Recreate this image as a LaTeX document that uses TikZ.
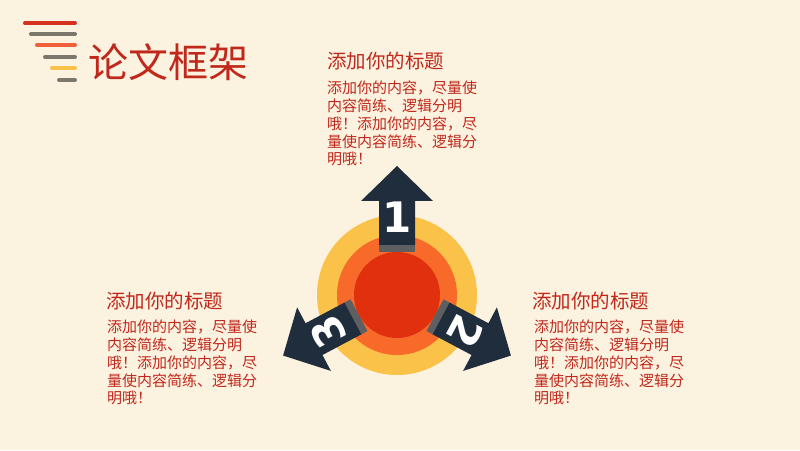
\documentclass[tikz,border=0pt]{standalone}
\usepackage{fontspec}
\newfontfamily\cjk{Noto Sans CJK SC}
\newfontfamily\numfont{DejaVu Sans}
\definecolor{bgcream}{HTML}{FCF2E0}
\definecolor{txtred}{HTML}{C0281C}
\definecolor{stripered}{HTML}{D6301E}
\definecolor{stripegray}{HTML}{7A786C}
\definecolor{stripeorange}{HTML}{F0603A}
\definecolor{stripeyellow}{HTML}{F8C24A}
\definecolor{ringyellow}{HTML}{FBC24A}
\definecolor{ringorange}{HTML}{F76A2A}
\definecolor{ringred}{HTML}{E0300E}
\definecolor{arrownavy}{HTML}{1F2D3C}
\definecolor{bandgray}{HTML}{5D5F61}
\begin{document}
\begin{tikzpicture}[x=1pt,y=1pt,line cap=round,
  heading/.style={anchor=base west,inner sep=0,text=txtred,font=\cjk\fontsize{19.5}{22}\selectfont},
  body/.style={anchor=base west,inner sep=0,align=left,text=txtred,font=\cjk\fontsize{15}{17.8}\selectfont},
  num/.style={text=white,inner sep=0,font=\numfont\bfseries\fontsize{42}{42}\selectfont}]
	\fill[bgcream] (0,0) rectangle (800,450);
	\useasboundingbox (0,0) rectangle (800,450);
	% stripes of the logo
	\foreach \x/\y/\c in {25/427/stripered,31/416/stripegray,37/405/stripeorange,45/393/stripegray,52/382/stripeyellow,59/370/stripegray}
	\draw[line width=4,\c] (\x,\y)--(75,\y);
	\node[anchor=base west,inner sep=0,text=txtred,font=\cjk\fontsize{40}{44}\selectfont] (title) at (88,372.5) {论文框架};
	% rings
	\coordinate (o) at (397,155);
	\fill[ringyellow] (o) circle (80);
	\fill[ringorange] (o) circle (60);
	\fill[ringred] (o) circle (43);
	% arrows
	\foreach \a/\n in {90/1,-28/2,208/3}{
		\begin{scope}[shift={(o)},rotate=\a]
			\fill[bandgray] (43,-18) rectangle (51,18);
			\fill[arrownavy] (50,-18)--(94,-18)--(94,-36)--(129,0)--(94,36)--(94,18)--(50,18)--cycle;
		\end{scope}
		\node[num,rotate=\a-90] (n\n) at ([shift={(\a:78)}]o) {\n};
	}
	% texts (base = last line)
	\node[heading] (hdtop) at (327,381.6) {添加你的标题};
	\node[body] (bdtop) at (327,285.1) {添加你的内容，尽量使\\内容简练、逻辑分明\\哦！添加你的内容，尽\\量使内容简练、逻辑分\\明哦！};
	\node[heading] (hdleft) at (106,141.6) {添加你的标题};
	\node[body] (bdleft) at (107,46.1) {添加你的内容，尽量使\\内容简练、逻辑分明\\哦！添加你的内容，尽\\量使内容简练、逻辑分\\明哦！};
	\node[heading] (hdright) at (532,141.6) {添加你的标题};
	\node[body] (bdright) at (534,46.1) {添加你的内容，尽量使\\内容简练、逻辑分明\\哦！添加你的内容，尽\\量使内容简练、逻辑分\\明哦！};
\end{tikzpicture}
\end{document}
